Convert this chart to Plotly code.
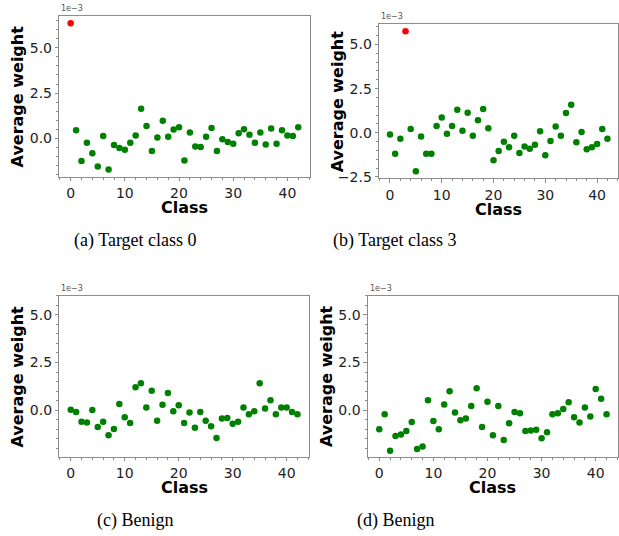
import plotly.graph_objects as go

classes = list(range(43))

weights_a = [6.36, 0.45, -1.25, -0.24, -0.82, -1.55, 0.13, -1.71, -0.36, -0.53,
             -0.62, -0.24, 0.16, 1.64, 0.69, -0.69, 0.05, 0.98, 0.09, 0.49,
             0.62, -1.22, 0.33, -0.44, -0.47, 0.09, 0.58, -0.69, -0.04, -0.20,
             -0.29, 0.29, 0.51, 0.20, -0.24, 0.33, -0.33, 0.55, -0.29, 0.45,
             0.16, 0.13, 0.62]
weights_b = [-0.09, -1.18, -0.34, 5.75, 0.22, -2.18, -0.21, -1.18, -1.18, 0.39,
             0.86, -0.06, 0.39, 1.31, 0.11, 1.14, -0.17, 0.71, 1.34, 0.26,
             -1.55, -1.03, -0.50, -0.82, -0.17, -1.14, -0.78, -0.90, -0.67, 0.09,
             -1.27, -0.47, 0.35, -0.17, 1.12, 1.59, -0.54, 0.04, -0.93, -0.82,
             -0.63, 0.22, -0.34]
weights_c = [0.03, -0.09, -0.60, -0.64, 0.02, -0.88, -0.60, -1.31, -0.98, 0.33,
             -0.36, -0.67, 1.21, 1.41, 0.14, 1.02, -0.55, 0.29, 0.91, -0.05,
             0.26, -0.67, -0.12, -0.91, -0.09, -0.55, -0.83, -1.45, -0.43, -0.40,
             -0.71, -0.60, 0.14, -0.21, -0.05, 1.41, 0.10, 0.53, -0.21, 0.14,
             0.14, -0.09, -0.21]
weights_d = [-0.99, -0.21, -2.12, -1.35, -1.27, -1.09, -0.61, -2.03, -1.89, 0.52,
             -0.56, -0.99, 0.30, 0.99, -0.12, -0.52, -0.43, 0.23, 1.15, -0.87,
             0.45, -1.30, 0.23, -1.56, -0.68, -0.09, -0.16, -1.09, -1.06, -1.02,
             -1.46, -1.15, -0.21, -0.16, 0.07, 0.42, -0.36, -0.64, 0.14, -0.33,
             1.11, 0.61, -0.21]

target_a = 0
target_b = 3
captions = ["(a) Target class 0", "(b) Target class 3", "(c) Benign", "(d) Benign"]
x_label = "Class"
y_label = "Average weight"
offset_label = "1e\u22123"
y_ticks = [-2.5, 0.0, 2.5, 5.0]
x_ticks = [0, 10, 20, 30, 40]

W, H = 619, 536

panels = [
    # (weights, target, x px range, y px range(top,bottom), y range)
    (weights_a, target_a, (59.3, 309.6), (15.7, 178.7), (-2.11, 6.78)),
    (weights_b, target_b, (379.1, 618.3), (24.4, 180.4), (-2.58, 6.15)),
    (weights_c, None, (59.4, 308.8), (299.0, 461.7), (-2.42, 6.0)),
    (weights_d, None, (367.9, 617.9), (299.0, 461.7), (-2.42, 6.0)),
]
caption_pos = [(135, 243), (395, 243), (135, 526), (395, 526)]

fig = go.Figure()
layout = dict(width=W, height=H, margin=dict(l=0, r=0, t=0, b=0),
              paper_bgcolor="white", plot_bgcolor="white", showlegend=False)
annotations = []

for i, (w, tgt, (x0, x1), (yt, yb), yr) in enumerate(panels):
    n = "" if i == 0 else str(i + 1)
    colors = ["#ff0000" if (tgt is not None and c == tgt) else "#008000" for c in classes]
    fig.add_trace(go.Scatter(x=classes, y=w, mode="markers",
                             marker=dict(color=colors, size=6.5, line=dict(width=0)),
                             xaxis="x" + n, yaxis="y" + n))
    common = dict(showline=True, linecolor="#8c8c8c", linewidth=1, mirror=True,
                  showgrid=False, zeroline=False, ticks="outside", ticklen=3.5,
                  tickcolor="#8c8c8c", tickwidth=1,
                  tickfont=dict(family="DejaVu Sans", size=14, color="#222"))
    layout["xaxis" + n] = dict(common, domain=[x0 / W, x1 / W], range=[-2.1, 44.1],
                               anchor="y" + n, tickvals=x_ticks,
                               minor=dict(ticks="outside", dtick=2, ticklen=2,
                                          tickcolor="#8c8c8c"))
    layout["yaxis" + n] = dict(common, domain=[1 - yb / H, 1 - yt / H], range=list(yr),
                               anchor="x" + n, tickvals=y_ticks, tickformat=".1f",
                               minor=dict(ticks="outside", dtick=0.5, ticklen=2,
                                          tickcolor="#8c8c8c"))
    cx = (x0 + x1) / 2
    cy = (yt + yb) / 2
    annotations.append(dict(text="<b>%s</b>" % x_label, x=cx / W, y=1 - (yb + 31.5) / H,
                            xref="paper", yref="paper", showarrow=False,
                            xanchor="center", yanchor="middle",
                            font=dict(family="DejaVu Sans", size=16, color="black")))
    annotations.append(dict(text="<b>%s</b>" % y_label, x=(x0 - 42) / W, y=1 - cy / H,
                            xref="paper", yref="paper", showarrow=False, textangle=-90,
                            xanchor="center", yanchor="middle",
                            font=dict(family="DejaVu Sans", size=16, color="black")))
    annotations.append(dict(text=offset_label, x=x0 / W, y=1 - (yt - 1) / H,
                            xref="paper", yref="paper", showarrow=False,
                            xanchor="left", yanchor="bottom",
                            font=dict(family="DejaVu Sans", size=8, color="#555")))

for cap, (px, py) in zip(captions, caption_pos):
    annotations.append(dict(text=cap, x=px / W, y=1 - py / H, xref="paper", yref="paper",
                            showarrow=False, xanchor="center", yanchor="middle",
                            font=dict(family="Liberation Serif", size=18, color="black")))

layout["annotations"] = annotations
fig.update_layout(**layout)
fig.write_html("out.html", config={"displayModeBar": False},
               post_script="document.body.style.margin='0';document.body.style.overflow='hidden';")
